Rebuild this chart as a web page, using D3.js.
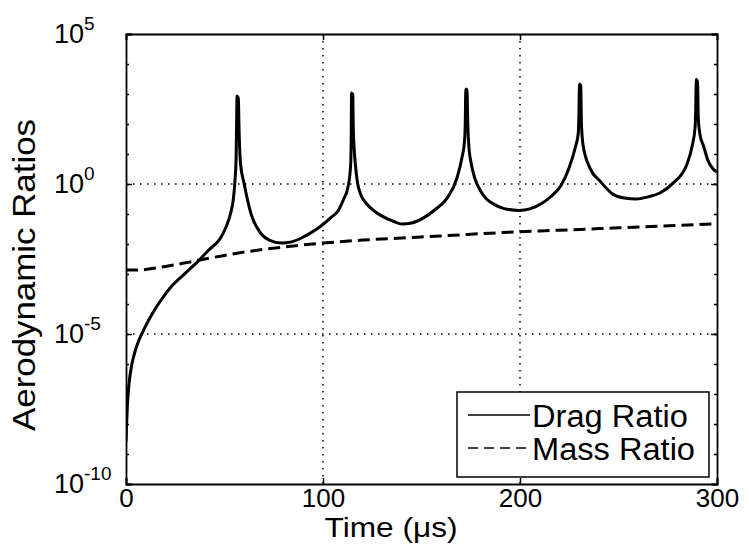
<!DOCTYPE html>
<html lang="en">
<head>
    <meta charset="utf-8" />
    <title>Aerodynamic Ratios</title>
    <script src="https://cdnjs.cloudflare.com/ajax/libs/d3/7.8.5/d3.min.js"></script>
    <style>
        body { margin: 0; background: white; }
        text { font-family: "Liberation Sans", Arial, Helvetica, sans-serif; fill: black; }
    </style>
</head>
<body>
<script>
    // Drag ratio (time in us, value as power of ten)
    const dragTime = [0, 0.3, 0.7, 1.2, 2, 3, 4.5, 6, 8, 11, 14, 18, 23, 30, 36.5, 42, 48, 51, 53, 54.5,
        55.3, 55.9, 56.1, 56.4, 56.7, 57.0, 57.4, 58.1, 60, 63.5, 68.5, 73, 79, 84, 89, 94, 99, 104, 107.6, 110.5, 112.7,
        114, 114.3, 114.5, 114.8, 115.1, 115.4, 115.8, 116.5, 117.5, 119, 122, 126, 130, 136, 140, 145, 151, 157, 163, 168, 170.5,
        171.8, 172.2, 172.5, 172.8, 173.1, 173.5, 174.1, 175, 177, 180, 183, 186.6, 192, 199.5, 205, 211, 216, 220.8, 225, 228,
        229.6, 229.9, 230.2, 230.5, 230.8, 231.2, 232, 235.5, 240.6, 247, 253, 259, 265, 271, 277.7, 284.8, 287.5,
        288.9, 289.2, 289.5, 289.8, 290.1, 290.5, 291.5, 293, 295.5, 298, 300];
    const dragExp = [-8.6, -8.0, -7.4, -6.9, -6.4, -6.0, -5.6, -5.3, -5.0, -4.6, -4.25, -3.85, -3.42, -2.98, -2.58, -2.2, -1.8, -1.4, -1.0, -0.5,
        0.1, 0.9, 1.8, 2.93, 2.3, 2.9, 1.8, 0.7, 0.0, -1.0, -1.65, -1.88, -1.97, -1.93, -1.8, -1.62, -1.4, -1.12, -0.9, -0.5, -0.1,
        0.6, 1.4, 3.03, 2.4, 3.0, 1.8, 1.2, 0.6, 0.05, -0.33, -0.65, -0.9, -1.07, -1.25, -1.33, -1.3, -1.13, -0.85, -0.47, 0.2, 0.87,
        1.4, 2.0, 3.17, 2.5, 3.15, 2.0, 1.2, 0.77, 0.2, -0.23, -0.5, -0.67, -0.82, -0.88, -0.83, -0.65, -0.4, -0.05, 0.55, 1.2,
        1.7, 2.3, 3.33, 2.6, 3.3, 2.0, 1.3, 0.53, 0.1, -0.33, -0.47, -0.5, -0.43, -0.3, 0.03, 0.67, 1.3,
        1.9, 2.5, 3.49, 2.7, 3.45, 2.2, 1.6, 1.3, 0.77, 0.5, 0.4];

    // Mass ratio
    const massTime = [0, 5, 10, 15, 20, 30, 40, 50, 60, 80, 100, 120, 140, 160, 200, 220, 250, 280, 300];
    const massExp = [-2.87, -2.87, -2.85, -2.8, -2.75, -2.63, -2.5, -2.38, -2.27, -2.1, -1.97, -1.87, -1.8, -1.73, -1.59, -1.54, -1.46, -1.38, -1.33];

    // Axis ticks
    const xTicks = [0, 100, 200, 300];
    const yTickExp = [-10, -5, 0, 5];
    const yMinorExp = [-10, -9, -8, -7, -6, -5, -4, -3, -2, -1, 0, 1, 2, 3, 4, 5];
    const seriesNames = ["Drag Ratio", "Mass Ratio"];

    const width = 749, height = 560;
    const box = { left: 126, right: 717, top: 34, bottom: 484 };

    const svg = d3.select("body").append("svg")
        .attr("width", width)
        .attr("height", height);

    const x = d3.scaleLinear().domain([0, 300]).range([box.left, box.right]);
    const y = d3.scaleLog().domain([1e-10, 1e5]).range([box.bottom, box.top]);

    const drag = dragTime.map((t, i) => ({ t: t, v: Math.pow(10, dragExp[i]) }));
    const mass = massTime.map((t, i) => ({ t: t, v: Math.pow(10, massExp[i]) }));

    // grid (dotted)
    const grid = svg.append("g").attr("class", "grid")
        .attr("stroke", "black").attr("stroke-width", 1.5)
        .attr("stroke-dasharray", "1.5,5.5");
    grid.selectAll(".gx").data(xTicks.slice(1, -1)).join("line")
        .attr("x1", d => x(d)).attr("x2", d => x(d))
        .attr("y1", box.top).attr("y2", box.bottom);
    grid.selectAll(".gy").data(yTickExp.slice(1, -1)).join("line")
        .attr("x1", box.left).attr("x2", box.right)
        .attr("y1", d => y(Math.pow(10, d))).attr("y2", d => y(Math.pow(10, d)));

    svg.append("clipPath").attr("id", "clip").append("rect")
        .attr("x", box.left).attr("y", box.top)
        .attr("width", box.right - box.left).attr("height", box.bottom - box.top);

    const line = d3.line()
        .x(d => x(d.t))
        .y(d => y(d.v))
        .curve(d3.curveMonotoneX);

    const plot = svg.append("g").attr("clip-path", "url(#clip)");

    plot.append("path").datum(mass)
        .attr("d", line)
        .attr("fill", "none").attr("stroke", "black")
        .attr("stroke-width", 3)
        .attr("stroke-dasharray", "12,6");

    plot.append("path").datum(drag)
        .attr("d", line)
        .attr("fill", "none").attr("stroke", "black")
        .attr("stroke-width", 3)
        .attr("stroke-linejoin", "round");

    // axes: ticks on the inside, on all four sides
    const xBottom = svg.append("g")
        .attr("transform", `translate(0,${box.bottom})`)
        .call(d3.axisBottom(x).tickValues(xTicks).tickSize(-6).tickPadding(5));
    svg.append("g")
        .attr("transform", `translate(0,${box.top})`)
        .call(d3.axisTop(x).tickValues(xTicks).tickSize(-6).tickFormat(""));
    svg.append("g")
        .attr("transform", `translate(${box.left},0)`)
        .call(d3.axisLeft(y).tickValues(yTickExp.map(e => Math.pow(10, e))).tickSize(-6).tickFormat(""));
    svg.append("g")
        .attr("transform", `translate(${box.right},0)`)
        .call(d3.axisRight(y).tickValues(yTickExp.map(e => Math.pow(10, e))).tickSize(-6).tickFormat(""));
    svg.append("g")
        .attr("transform", `translate(${box.left},0)`)
        .call(d3.axisLeft(y).tickValues(yMinorExp.map(e => Math.pow(10, e))).tickSize(-3).tickFormat(""))
        .select(".domain").remove();
    svg.append("g")
        .attr("transform", `translate(${box.right},0)`)
        .call(d3.axisRight(y).tickValues(yMinorExp.map(e => Math.pow(10, e))).tickSize(-3).tickFormat(""))
        .select(".domain").remove();

    svg.selectAll(".domain").attr("stroke-width", 1.8);
    svg.selectAll(".tick line").attr("stroke-width", 1.5);

    xBottom.selectAll("text")
        .style("font-size", "26px")
        .style("font-family", "'Liberation Sans', Arial, sans-serif");

    // y tick labels as 10 with superscript exponent
    const ylab = svg.append("g");
    yTickExp.forEach(e => {
        const t = ylab.append("text")
            .attr("x", 54)
            .attr("y", y(Math.pow(10, e)) + 9)
            .style("font-size", "27px");
        t.append("tspan").text("10");
        t.append("tspan")
            .attr("dy", -13)
            .style("font-size", "19px")
            .text(e);
    });

    // axis labels
    svg.append("text")
        .attr("x", 391)
        .attr("y", 537)
        .attr("text-anchor", "middle")
        .attr("textLength", 133)
        .attr("lengthAdjust", "spacingAndGlyphs")
        .style("font-size", "27px")
        .text("Time (\u03bcs)");

    svg.append("text")
        .attr("transform", "translate(35,275) rotate(-90)")
        .attr("text-anchor", "middle")
        .attr("textLength", 312)
        .attr("lengthAdjust", "spacingAndGlyphs")
        .style("font-size", "31px")
        .text("Aerodynamic Ratios");

    // legend
    const legend = svg.append("g").attr("class", "legend");
    legend.append("rect")
        .attr("x", 457).attr("y", 392)
        .attr("width", 252).attr("height", 85)
        .attr("fill", "white").attr("stroke", "black").attr("stroke-width", 1.5);
    seriesNames.forEach((name, i) => {
        const ly = 415 + i * 33;
        legend.append("line")
            .attr("x1", 468).attr("x2", 530)
            .attr("y1", ly).attr("y2", ly)
            .attr("stroke", "black").attr("stroke-width", 1.5)
            .attr("stroke-dasharray", i === 1 ? "10,6" : null);
        legend.append("text")
            .attr("x", 532).attr("y", ly + 12)
            .attr("textLength", i === 0 ? 156 : 163)
            .attr("lengthAdjust", "spacingAndGlyphs")
            .style("font-size", "31px")
            .text(name);
    });
</script>
</body>
</html>
